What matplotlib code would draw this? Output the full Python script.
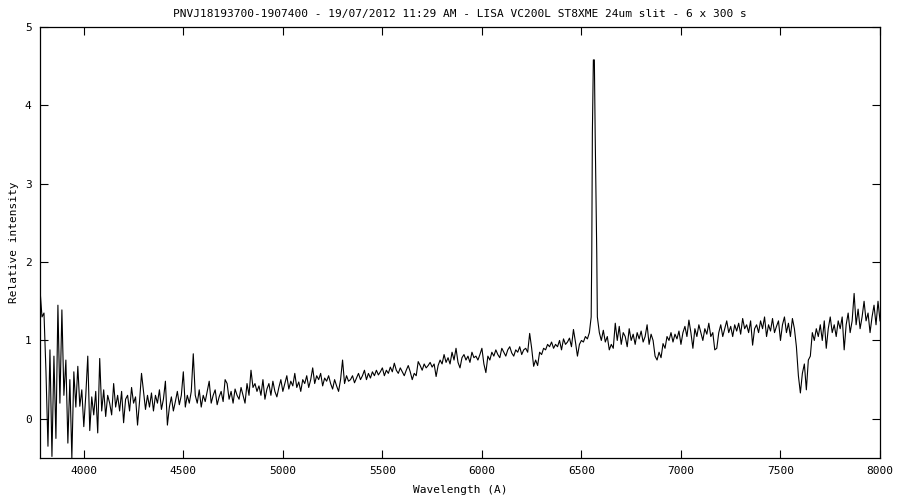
import numpy as np
import matplotlib
matplotlib.use("Agg")
import matplotlib.pyplot as plt

title = "PNVJ18193700-1907400 - 19/07/2012 11:29 AM - LISA VC200L ST8XME 24um slit - 6 x 300 s"
xlabel = "Wavelength (A)"
ylabel = "Relative intensity"
xticks = [4000, 4500, 5000, 5500, 6000, 6500, 7000, 7500, 8000]
yticks = [0, 1, 2, 3, 4, 5]

# blue part: 3780..6530 step 10
wave_blue = np.arange(3780, 6531, 10)
flux_blue = [
    1.65, 1.30, 1.35, 0.60, -0.35, 0.88, -0.48, 0.80, -0.25, 1.45,
    0.20, 1.39, 0.30, 0.75, -0.31, 0.50, -0.50, 0.60, 0.15, 0.67,
    0.16, 0.37, -0.10, 0.30, 0.80, -0.15, 0.28, 0.05, 0.35, -0.18,
    0.77, 0.10, 0.37, 0.03, 0.30, 0.20, 0.05, 0.45, 0.15, 0.30,
    0.10, 0.35, -0.05, 0.25, 0.30, 0.10, 0.40, 0.20, 0.28, -0.08,
    0.22, 0.58, 0.35, 0.12, 0.30, 0.15, 0.33, 0.10, 0.30, 0.20,
    0.37, 0.12, 0.25, 0.48, -0.08, 0.15, 0.28, 0.10, 0.22, 0.35,
    0.18, 0.30, 0.60, 0.15, 0.30, 0.20, 0.35, 0.83, 0.30, 0.20,
    0.37, 0.15, 0.30, 0.22, 0.35, 0.48, 0.20, 0.30, 0.37, 0.18,
    0.28, 0.35, 0.22, 0.50, 0.45, 0.25, 0.35, 0.20, 0.38, 0.30,
    0.25, 0.40, 0.30, 0.20, 0.45, 0.30, 0.62, 0.40, 0.45, 0.35,
    0.42, 0.30, 0.50, 0.25, 0.38, 0.45, 0.30, 0.48, 0.35, 0.28,
    0.40, 0.50, 0.35, 0.45, 0.55, 0.38, 0.48, 0.42, 0.58, 0.40,
    0.47, 0.35, 0.50, 0.45, 0.55, 0.40, 0.50, 0.65, 0.45, 0.55,
    0.50, 0.58, 0.42, 0.52, 0.48, 0.55, 0.45, 0.38, 0.50, 0.42,
    0.35, 0.50, 0.75, 0.45, 0.55, 0.48, 0.50, 0.55, 0.46, 0.52,
    0.58, 0.50, 0.55, 0.62, 0.50, 0.58, 0.52, 0.60, 0.55, 0.62,
    0.56, 0.60, 0.65, 0.55, 0.62, 0.58, 0.66, 0.60, 0.71, 0.62,
    0.58, 0.65, 0.60, 0.55, 0.62, 0.68, 0.60, 0.50, 0.58, 0.55,
    0.73, 0.68, 0.62, 0.70, 0.65, 0.68, 0.72, 0.66, 0.70, 0.54,
    0.68, 0.75, 0.70, 0.82, 0.72, 0.78, 0.70, 0.85, 0.75, 0.90,
    0.72, 0.65, 0.78, 0.82, 0.75, 0.80, 0.72, 0.85, 0.78, 0.80,
    0.75, 0.82, 0.90, 0.70, 0.59, 0.80, 0.75, 0.85, 0.80, 0.88,
    0.82, 0.78, 0.90, 0.85, 0.80, 0.88, 0.92, 0.84, 0.80, 0.88,
    0.85, 0.92, 0.82, 0.88, 0.90, 0.85, 1.09, 0.90, 0.67, 0.75,
    0.68, 0.85, 0.82, 0.90, 0.88, 0.95, 0.92, 0.98, 0.90, 0.95,
    0.92, 1.00, 0.88, 1.02, 0.95, 0.98, 1.03, 0.92, 1.14, 0.98,
    0.80, 0.95, 1.00, 0.98, 1.05, 1.02,
]

# H-alpha emission line
ha_wave = [6540, 6549, 6552, 6555, 6560, 6565, 6569, 6577, 6580]
ha_flux = [1.10, 1.30, 2.12, 3.65, 4.58, 4.58, 3.65, 2.12, 1.30]

# red part: 6590..8000 step 10
wave_red = np.arange(6590, 8001, 10)
flux_red = [
    1.10, 1.00, 1.13, 0.98, 1.05, 0.88, 0.95, 0.90, 1.22,
    1.00, 1.18, 0.95, 1.10, 1.05, 0.92, 1.15, 1.00, 1.08, 0.95,
    1.10, 1.02, 1.12, 0.98, 1.05, 1.20, 0.95, 1.08, 1.00, 0.80,
    0.75, 0.85, 0.78, 0.96, 0.90, 1.05, 1.00, 1.10, 0.98, 1.08,
    1.02, 1.12, 0.95, 1.10, 1.18, 1.05, 1.26, 1.10, 0.90, 1.15,
    1.05, 1.20, 1.10, 1.00, 1.15, 1.08, 1.22, 1.05, 1.10, 0.88,
    0.90, 1.10, 1.20, 1.05, 1.15, 1.25, 1.10, 1.18, 1.05, 1.20,
    1.12, 1.22, 1.08, 1.28, 1.15, 1.20, 1.10, 1.25, 0.94, 1.15,
    1.20, 1.10, 1.25, 1.15, 1.30, 1.05, 1.20, 1.12, 1.28, 1.10,
    1.18, 1.25, 1.00, 1.20, 1.30, 1.10, 1.22, 1.05, 1.28, 1.15,
    0.92, 0.55, 0.33, 0.58, 0.70, 0.37, 0.75, 0.80, 1.10, 1.00,
    1.15, 1.05, 1.20, 1.00, 1.25, 0.90, 1.15, 1.30, 1.10, 1.20,
    1.05, 1.25, 1.15, 1.30, 0.88, 1.20, 1.35, 1.10, 1.25, 1.60,
    1.20, 1.40, 1.15, 1.30, 1.50, 1.25, 1.35, 1.10, 1.30, 1.45,
    1.20, 1.50, 1.25,
]

wave = np.concatenate([wave_blue, ha_wave, wave_red])
flux = np.concatenate([flux_blue, ha_flux, flux_red])

font = "DejaVu Sans Mono"
fs = 8

fig = plt.figure(figsize=(9, 5), dpi=100)
ax = fig.add_axes([40 / 900, 1 - 458 / 500, 840 / 900, 431 / 500])
ax.plot(wave, flux, color="black", linewidth=0.8)
ax.set_xlim(3780, 8000)
ax.set_ylim(-0.5, 5)
ax.set_xticks(xticks)
ax.set_yticks(yticks)
ax.tick_params(direction="in", length=6, width=0.8, top=True, right=True,
               labelsize=fs, pad=6)
for lab in ax.get_xticklabels() + ax.get_yticklabels():
    lab.set_family(font)
for s in ax.spines.values():
    s.set_linewidth(0.9)
ax.set_title(title, fontsize=fs, family=font, pad=7)
ax.set_xlabel(xlabel, fontsize=fs, family=font, labelpad=6)
ax.set_ylabel(ylabel, fontsize=fs, family=font, labelpad=4)
fig.savefig("out.png", dpi=100)
